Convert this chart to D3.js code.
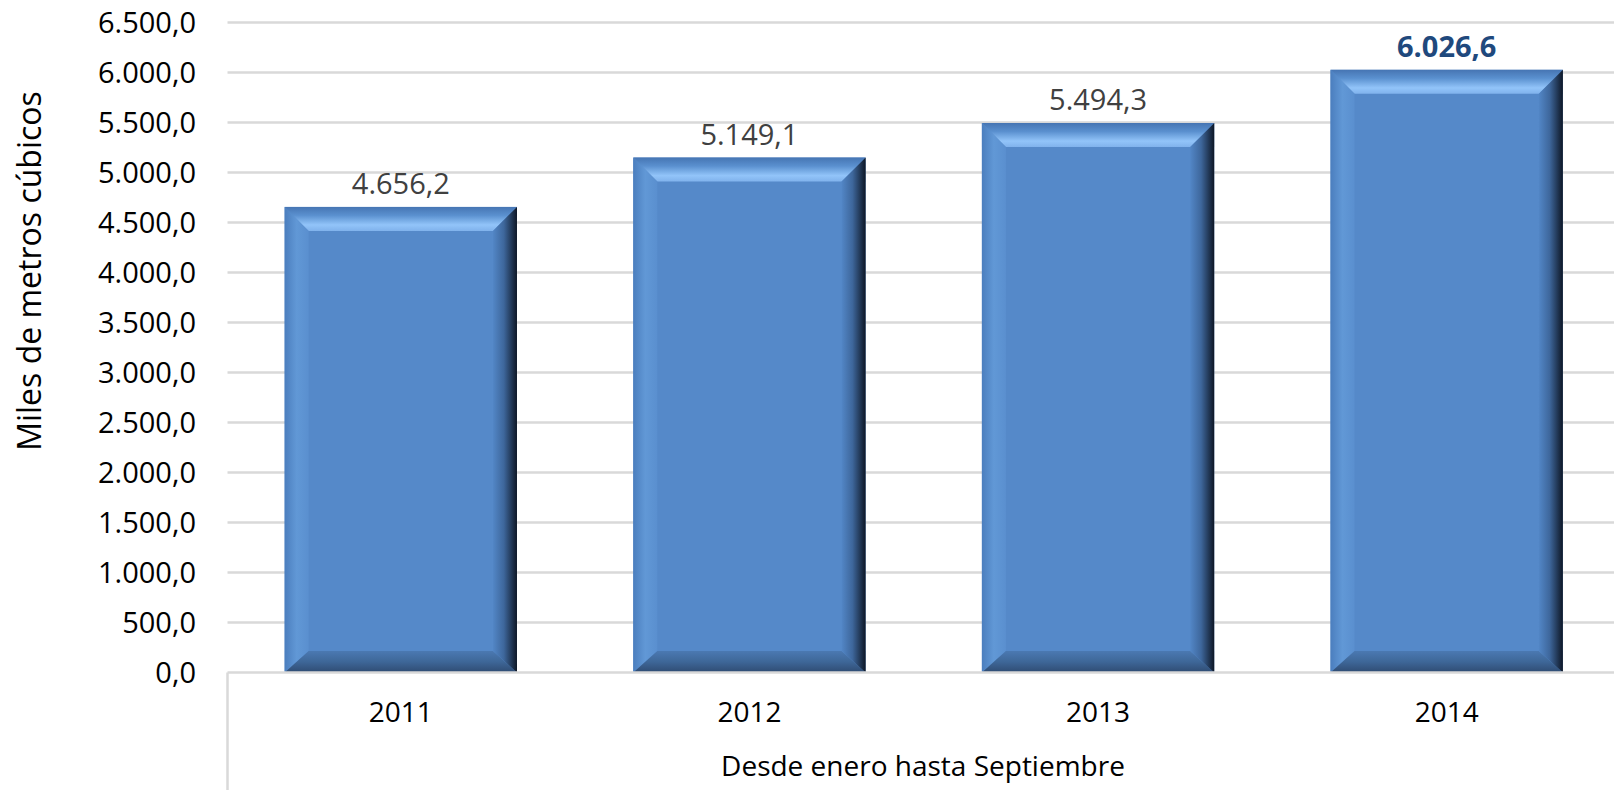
<!DOCTYPE html>
<html lang="es">
<head>
<meta charset="UTF-8">
<title>Miles de metros cúbicos</title>
<script src="https://d3js.org/d3.v7.min.js"></script>
<style>
  body { margin: 0; background: #fff; }
  text { font-family: "Open Sans", sans-serif; }
</style>
</head>
<body>
<script>
// Data
const years = ["2011", "2012", "2013", "2014"];
const values = [4656.2, 5149.1, 5494.3, 6026.6];
const highlight = [false, false, false, true];
const yTicks = [0, 500, 1000, 1500, 2000, 2500, 3000, 3500, 4000, 4500, 5000, 5500, 6000, 6500];

const W = 1614, H = 790;
const margin = {top: 22.5, bottom: 117.5, left: 227.5};
const height = H - margin.top - margin.bottom;

const svg = d3.select("body").append("svg")
    .attr("width", W).attr("height", H);

// number format 1.234,5
const esLocale = d3.formatLocale({decimal: ",", thousands: ".", grouping: [3], currency: ["", ""]});
const fmt = esLocale.format(",.1f");

// the plot area runs a little past the right edge of the picture
const x = d3.scaleBand().domain(years).range([226.5, 1621]).paddingInner(0.3336).paddingOuter(0.1668);
const y = d3.scaleLinear().domain([0, 6500]).range([margin.top + height, margin.top]);

// gradients for bevels
const defs = svg.append("defs");
function grad(id, x2, y2, stops) {
    const g = defs.append("linearGradient").attr("id", id)
        .attr("x1", 0).attr("y1", 0).attr("x2", x2).attr("y2", y2);
    stops.forEach(s => g.append("stop").attr("offset", s[0]).attr("stop-color", s[1]));
}
grad("gTop", 0, 1, [[0, "#4675b3"], [0.35, "#5a90cf"], [0.75, "#92c4f9"], [1, "#80b2ec"]]);
grad("gLeft", 1, 0, [[0, "#4b7ebe"], [0.5, "#6198d6"], [1, "#5a8fcf"]]);
grad("gRight", 1, 0, [[0, "#5286c6"], [0.45, "#3e679c"], [1, "#0e1726"]]);
grad("gBottom", 0, 1, [[0, "#4b79b2"], [0.5, "#3e6798"], [1, "#2f4b72"]]);

// gridlines
svg.append("g").selectAll("line").data(yTicks.slice(1)).join("line")
    .attr("x1", margin.left).attr("x2", W)
    .attr("y1", d => y(d)).attr("y2", d => y(d))
    .attr("stroke", "#d9d9d9").attr("stroke-width", 2.5);

// y axis labels
svg.append("g").selectAll("text").data(yTicks).join("text")
    .attr("x", 196).attr("y", d => y(d))
    .attr("dy", "0.36em")
    .attr("text-anchor", "end")
    .attr("font-size", 29)
    .attr("fill", "#000")
    .text(d => fmt(d));

// bars with bevel
const bev = 24;
const bars = svg.append("g").selectAll("g").data(values).join("g");
bars.each(function(v, i) {
    const g = d3.select(this);
    const x0 = x(years[i]), x1 = x0 + x.bandwidth();
    const y0 = y(v), y1 = y(0);
    g.append("rect").attr("x", x0).attr("y", y0).attr("width", x1 - x0).attr("height", y1 - y0)
        .attr("fill", "#5589c9");
    const pts = {
        gTop: [[x0, y0], [x1, y0], [x1 - bev, y0 + bev], [x0 + bev, y0 + bev]],
        gLeft: [[x0, y0], [x0 + bev, y0 + bev], [x0 + bev, y1 - bev * 0.9], [x0, y1]],
        gBottom: [[x0, y1], [x0 + bev, y1 - bev * 0.9], [x1 - bev, y1 - bev * 0.9], [x1, y1]],
        gRight: [[x1, y0], [x1 - bev, y0 + bev], [x1 - bev, y1 - bev * 0.9], [x1, y1]]
    };
    Object.keys(pts).forEach(k => {
        g.append("polygon").attr("points", pts[k].map(p => p.join(",")).join(" "))
            .attr("fill", `url(#${k})`);
    });
});

// value labels
svg.append("g").selectAll("text").data(values).join("text")
    .attr("x", (d, i) => x(years[i]) + x.bandwidth() / 2)
    .attr("y", d => y(d) - 13)
    .attr("text-anchor", "middle")
    .attr("font-size", 29)
    .attr("font-weight", (d, i) => highlight[i] ? "bold" : "normal")
    .attr("fill", (d, i) => highlight[i] ? "#1f497d" : "#404040")
    .text(d => fmt(d));

// zero line and category divider
svg.append("line").attr("x1", margin.left).attr("x2", W)
    .attr("y1", y(0)).attr("y2", y(0)).attr("stroke", "#d9d9d9").attr("stroke-width", 2.5);
svg.append("line").attr("x1", margin.left).attr("x2", margin.left)
    .attr("y1", y(0)).attr("y2", H).attr("stroke", "#d9d9d9").attr("stroke-width", 2.5);

// category labels
svg.append("g").selectAll("text").data(years).join("text")
    .attr("x", d => x(d) + x.bandwidth() / 2)
    .attr("y", 722)
    .attr("text-anchor", "middle")
    .attr("font-size", 28)
    .attr("fill", "#000")
    .text(d => d);

// axis titles
svg.append("text")
    .attr("x", 923).attr("y", 776)
    .attr("text-anchor", "middle").attr("font-size", 28).attr("fill", "#000")
    .text("Desde enero hasta Septiembre");

svg.append("text")
    .attr("transform", `translate(41,271) rotate(-90)`)
    .attr("text-anchor", "middle").attr("font-size", 32).attr("fill", "#000")
    .text("Miles de metros cúbicos");
</script>
</body>
</html>
